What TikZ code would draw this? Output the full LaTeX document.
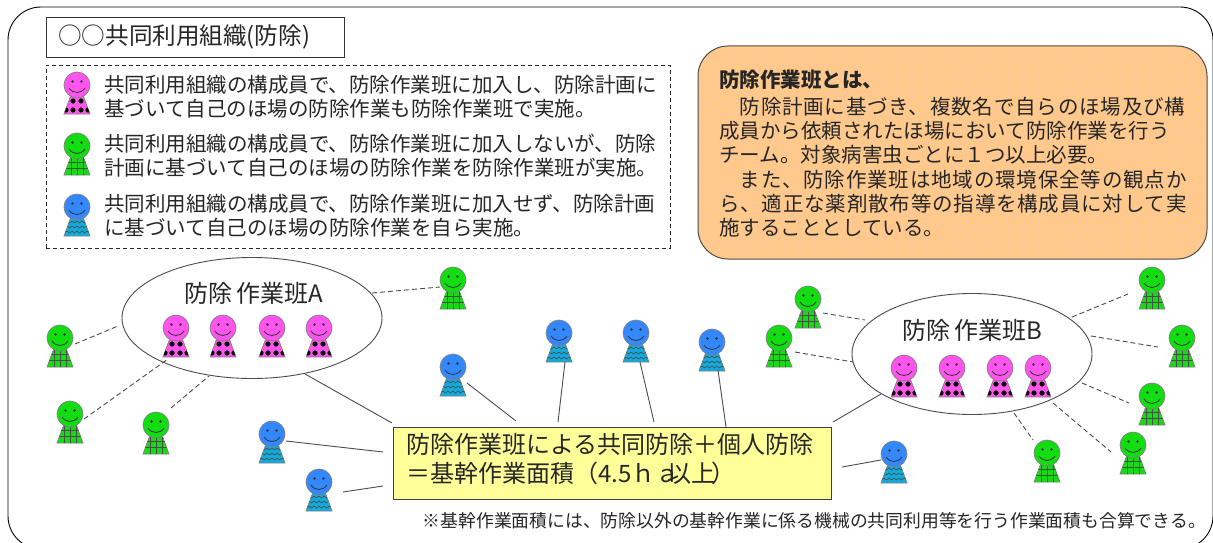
\documentclass[tikz,border=0pt]{standalone}
\usepackage{fontspec}
\setmainfont{Noto Sans CJK JP}
\usetikzlibrary{shapes.geometric}
\definecolor{pinkc}{HTML}{FF55EE}
\definecolor{greenc}{HTML}{11DD11}
\definecolor{bluec}{HTML}{3388FF}
\definecolor{tealc}{HTML}{11AADD}
\definecolor{orangec}{HTML}{FFC88F}
\definecolor{yellowc}{HTML}{FFFF99}
\newcommand{\widerline}[1]{{\addfontfeature{LetterSpace=4}#1}}
\tikzset{
 x=1pt,y=-1pt,
 solidlink/.style={draw=black!70,line width=.9pt},
 dashlink/.style={draw=black!70,line width=.9pt,dash pattern=on 5pt off 3pt},
 txt/.style={inner sep=0pt,anchor=north west,align=left,font=\fontsize{20.5}{24.2}\selectfont,text=black!85},
 smallbody/.style={draw=black!50,line width=.7pt},
 group/.style={draw=black!70,line width=.9pt,ellipse,inner sep=0pt},
 grouplabel/.style={txt,anchor=center,font=\fontsize{24}{28}\selectfont},
 head/.pic={
  \path[smallbody,fill=#1] (0,0) circle[radius=13];
  \fill[black!80] (-4.5,-3.5) circle[radius=1.3] (4.5,-3.5) circle[radius=1.3];
  \draw[black!80,line width=.8pt] (-8,3) .. controls (-4,9) and (4,9) .. (8,3);
 },
 pinkp/.pic={
  \path[smallbody,fill=pinkc] (-6,10) -- (6,10) -- (13,29) -- (-13,29) -- cycle;
  \begin{scope}
   \clip (-6,10) -- (6,10) -- (13,29) -- (-13,29) -- cycle;
   \fill[black] (-4,16) circle[radius=2.6] (4,16) circle[radius=2.6]
     (-4,25) circle[radius=2.6] (4,25) circle[radius=2.6]
     (-11,25) circle[radius=2.6] (11,25) circle[radius=2.6];
  \end{scope}
  \pic {head=pinkc};
 },
 greenp/.pic={
  \path[smallbody,fill=greenc] (-6,10) -- (6,10) -- (13,29) -- (-13,29) -- cycle;
  \begin{scope}
   \clip (-6,10) -- (6,10) -- (13,29) -- (-13,29) -- cycle;
   \draw[black!70,line width=.6pt] (-14,16) -- (14,16) (-14,22.5) -- (14,22.5)
     (-6,10) -- (-6,30) (0,10) -- (0,30) (6,10) -- (6,30);
  \end{scope}
  \pic {head=greenc};
 },
 bluep/.pic={
  \path[smallbody,fill=tealc] (-6,10) -- (6,10) -- (13,29) -- (-13,29) -- cycle;
  \begin{scope}
   \clip (-6,10) -- (6,10) -- (13,29) -- (-13,29) -- cycle;
   \foreach \yy in {14,19,24}{
    \draw[black!70,line width=.6pt] (-15,\yy) -- ++(2.5,2) -- ++(2.5,-2) -- ++(2.5,2) -- ++(2.5,-2)
     -- ++(2.5,2) -- ++(2.5,-2) -- ++(2.5,2) -- ++(2.5,-2) -- ++(2.5,2) -- ++(2.5,-2) -- ++(2.5,2) -- ++(2.5,-2);
   }
  \end{scope}
  \pic {head=bluec};
 },
}
\begin{document}
\begin{tikzpicture}
\useasboundingbox (0,0) rectangle (1213,543);
\fill[white] (0,0) rectangle (1213,543);
\begin{scope}
\clip (0,0) rectangle (1213,543);
\draw[black,line width=.9pt,rounded corners=33pt] (8,7) rectangle (1213,549);
\end{scope}
% title
\node[draw=black!80,line width=.8pt,minimum width=298,minimum height=40,inner sep=0pt,anchor=north west] (title) at (46,17) {};
\node[txt,anchor=west,font=\fontsize{23.6}{26}\selectfont] (titletext) at (58,37) {○○共同利用組織(防除)};
% legend
\node[draw=black!85,line width=.8pt,dash pattern=on 4pt off 3pt,minimum width=624,minimum height=183,inner sep=0pt,anchor=north west] (legend) at (46,65) {};
\pic at (77,85) {pinkp};
\pic at (77,146) {greenp};
\pic at (77,207) {bluep};
\node[txt] (l1) at (104,75) {共同利用組織の構成員で、防除作業班に加入し、防除計画に\\基づいて自己のほ場の防除作業も防除作業班で実施。};
\node[txt] (l2) at (104,134) {共同利用組織の構成員で、防除作業班に加入しないが、防除\\計画に基づいて自己のほ場の防除作業を防除作業班が実施。};
\node[txt] (l3) at (104,194) {共同利用組織の構成員で、防除作業班に加入せず、防除計画\\に基づいて自己のほ場の防除作業を自ら実施。};
% orange box
\fill[orangec,rounded corners=30pt] (698,46) rectangle (1207,259);
\begin{scope}
\clip[rounded corners=30pt] (698,46) rectangle (1207,259);
\foreach \i in {0,...,73}{\foreach \j in {0,...,31}{
 \fill[yellow!60!orangec] ({698+7*\i+3.5*mod(\j,2)},{48+7*\j}) circle[radius=.7];
}}
\end{scope}
\draw[black!70,line width=1pt,rounded corners=30pt] (698,46) rectangle (1207,259);
\node[txt,font=\bfseries\fontsize{20.5}{24}\selectfont] (ot) at (719,70) {防除作業班とは、};
\node[txt] (ob) at (719,97) {\hspace*{20.5pt}\widerline{防除計画に基づき、複数名で自らのほ場及び構}\\成員から依頼されたほ場において防除作業を行う\\チーム。対象病害虫ごとに１つ以上必要。\\\hspace*{20.5pt}\widerline{また、防除作業班は地域の環境保全等の観点か}\\\widerline{ら、適正な薬剤散布等の指導を構成員に対して実}\\施することとしている。};
% groups
\node[group,minimum width=260,minimum height=121] (ea) at (252,318) {};
\node[grouplabel] (ealab) at (254,293) {防除\hspace{4pt}作業班A};
\node[group,minimum width=240,minimum height=121] (eb) at (972,354) {};
\node[grouplabel] (eblab) at (972,330) {防除\hspace{4pt}作業班B};
% yellow box
\node[draw=black!75,line width=1pt,fill=yellowc,minimum width=438,minimum height=72,inner sep=0pt,anchor=north west] (yb) at (393,427) {};
\node[txt,font=\fontsize{24}{29}\selectfont] (ybt) at (406,433) {防除作業班による共同防除＋個人防除\\＝基幹作業面積（4.5ｈａ\hspace{-12pt}以上\hspace{-4pt}）};
\node[txt,font=\fontsize{17.8}{20}\selectfont,anchor=east] (note) at (1206,521) {※基幹作業面積には、防除以外の基幹作業に係る機械の共同利用等を行う作業面積も合算できる。};
% people
\foreach \x in {176,223,272,319}{\pic at (\x,328) {pinkp};}
\foreach \x in {904,952,1000,1038}{\pic at (\x,368) {pinkp};}
\pic at (60,338) {greenp};
\pic at (70,414) {greenp};
\pic at (156,425) {greenp};
\pic at (453,280) {greenp};
\pic at (808,299) {greenp};
\pic at (779,338) {greenp};
\pic at (1152,280) {greenp};
\pic at (1182,338) {greenp};
\pic at (1152,396) {greenp};
\pic at (1133,445) {greenp};
\pic at (1047,453) {greenp};
\pic at (272,434) {bluep};
\pic at (319,482) {bluep};
\pic at (453,367) {bluep};
\pic at (559,333) {bluep};
\pic at (636,333) {bluep};
\pic at (712,342) {bluep};
\pic at (894,454) {bluep};
% connector ends
\foreach \n/\a/\b in {d1/75/344,d1b/118/326,d2/84/419,d2b/168/359,d3/171/408,d3b/209/376,d4/372/293,d4b/440/287,
 s1/305/374,s1b/392/423,s2/286/441,s2b/383/452,s3/343/492,s3b/383/486,s4/467/383,s4b/516/421,s5/565/362,s5b/558/422,
 s6/640/362,s6b/654/422,s7/718/370,s7b/726/427,s8/842/467,s8b/881/460,s9/833/422,s9b/881/394,
 r1/823/313,r1b/865/320,r2/795/352,r2b/853/362,r3/1072/317,r3b/1128/294,r4/1091/336,r4b/1158/347,r5/1082/383,r5b/1129/403,
 r6/1014/413,r6b/1033/440,r7/1053/403,r7b/1111/452}{\coordinate (\n) at (\a,\b);}
\foreach \n in {d1,d2,d3,d4,r1,r2,r3,r4,r5,r6,r7}{\path[dashlink] (\n) -- (\n b);}
\foreach \n in {s1,s2,s3,s4,s5,s6,s7,s8,s9}{\path[solidlink] (\n) -- (\n b);}
\end{tikzpicture}
\end{document}
